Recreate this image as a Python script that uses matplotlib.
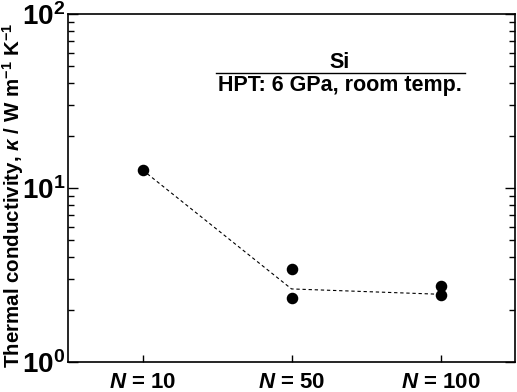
import matplotlib
matplotlib.use("Agg")
import matplotlib.pyplot as plt
import numpy as np

plt.rcParams['font.family'] = ['Liberation Sans', 'DejaVu Sans']
plt.rcParams['font.weight'] = 'bold'
plt.rcParams['mathtext.fontset'] = 'custom'
plt.rcParams['mathtext.rm'] = 'Liberation Sans:bold'
plt.rcParams['mathtext.it'] = 'Liberation Sans:bold:italic'
plt.rcParams['mathtext.bf'] = 'Liberation Sans:bold'

# data
labels = ['N = 10', 'N = 50', 'N = 100']
pts_x = [0, 1, 1, 2, 2]
pts_kappa = [12.7, 3.41, 2.33, 2.73, 2.43]
line_kappa = [12.7, 2.63, 2.45]

fig = plt.figure(figsize=(5.17, 3.92), dpi=100)
ax = fig.add_axes([68/517, 1 - 362/392, (515-68)/517, (362-14)/392])

x = np.arange(len(labels))
ax.plot(x, line_kappa, linestyle=(0, (3, 2.5)), color='k', linewidth=0.8)
ax.plot(pts_x, pts_kappa, 'o', color='k', markersize=7.3, linestyle='None')

ax.set_yscale('log')
ax.set_ylim(1, 100)
ax.set_xlim(-0.5, 2.5)
ax.set_xticks(x)
ax.set_xticklabels([r'$\mathit{N}$ = 10', r'$\mathit{N}$ = 50', r'$\mathit{N}$ = 100'],
                   fontsize=16, fontweight='bold')
ax.tick_params(axis='x', direction='in', length=5, width=1, pad=7)
ax.tick_params(axis='y', which='both', direction='in', left=True, right=True,
               labelsize=20, width=1, pad=2)
ax.tick_params(axis='y', which='major', length=7)
ax.tick_params(axis='y', which='minor', length=4)
for s in ax.spines.values():
    s.set_linewidth(1.2)

fig.text(13/517, 1 - 195/392,
         r'Thermal conductivity, $\mathit{\kappa}$ / W m$^{-1}$ K$^{-1}$',
         rotation=90, ha='center', va='center', fontsize=14.8, fontweight='bold')

fig.text(340/517, 1 - 62/392, 'Si', ha='center', va='center', fontsize=15.5, fontweight='bold')
fig.add_artist(plt.Line2D([216/517, 465/517], [1 - 72.5/392, 1 - 72.5/392],
                          color='k', linewidth=1))
fig.text(340/517, 1 - 86/392, 'HPT: 6 GPa, room temp.', ha='center', va='center',
         fontsize=15.5, fontweight='bold')

fig.savefig('out.png', dpi=100)
